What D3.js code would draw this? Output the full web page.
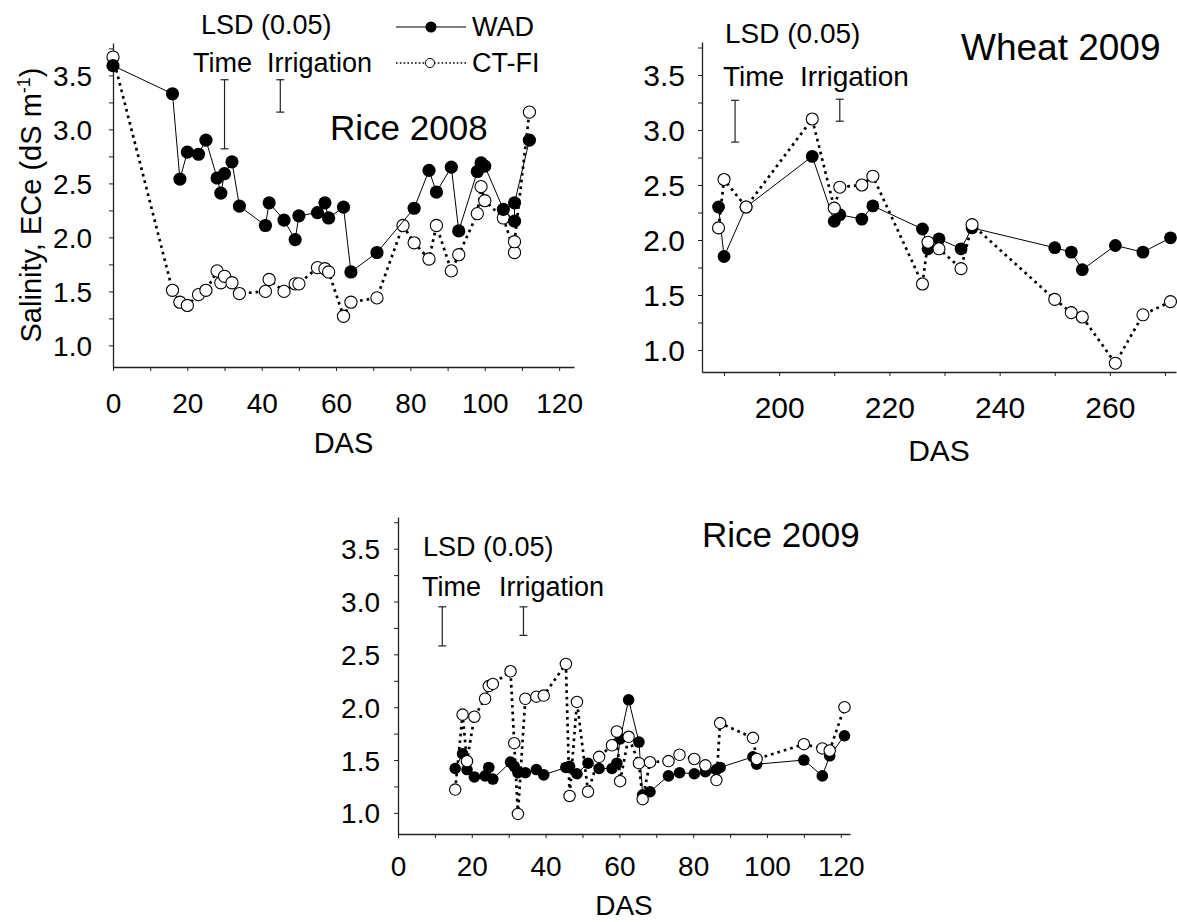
<!DOCTYPE html>
<html><head><meta charset="utf-8">
<script src="https://cdn.jsdelivr.net/npm/d3@7/dist/d3.min.js"></script>
<style>
body{margin:0;background:#fff;}
text{font-family:"Liberation Sans",Arial,sans-serif;fill:#000;}
</style>
</head><body>
<svg id="chart" width="1177" height="922"></svg>
<script>
// ---------------- DATA ----------------
const rice2008WadDas = [0,16,18,20,23,25,28,29,30,32,34,41,42,46,49,50,55,57,58,62,64,71,81,85,87,91,93,98,99,100,105,108,108,112];
const rice2008WadVal = [3.59,3.33,2.54,2.79,2.77,2.90,2.55,2.41,2.59,2.70,2.29,2.11,2.32,2.16,1.98,2.20,2.23,2.32,2.18,2.28,1.68,1.86,2.27,2.62,2.42,2.65,2.06,2.61,2.69,2.66,2.26,2.15,2.32,2.90];
const rice2008CtDas = [0,16,18,20,23,25,28,29,30,32,34,41,42,46,49,50,55,57,58,62,64,71,78,81,85,87,91,93,98,99,100,105,108,108,112];
const rice2008CtVal = [3.67,1.51,1.40,1.37,1.47,1.51,1.69,1.58,1.64,1.58,1.48,1.50,1.61,1.50,1.57,1.57,1.72,1.71,1.68,1.27,1.40,1.44,2.11,1.95,1.80,2.11,1.69,1.84,2.22,2.47,2.34,2.18,1.86,1.96,3.16];

const wheat2009Das = [189,190,194,206,210,211,215,217,226,227,229,233,235,250,253,255,261,266,271];
const wheat2009Wad = [2.30,1.85,2.30,2.76,2.17,2.23,2.19,2.31,2.10,1.92,2.01,1.92,2.11,1.93,1.89,1.73,1.95,1.89,2.02];
const wheat2009Ct  = [2.11,2.55,2.30,3.10,2.29,2.48,2.50,2.58,1.60,1.98,1.92,1.74,2.14,1.46,1.34,1.30,0.88,1.32,1.44];

const rice2009Das = [15.5,17.5,18.7,20.7,23.6,24.6,25.7,30.5,31.5,32.5,34.5,37.5,39.5,45.5,46.5,48.5,51.5,54.5,58,59.3,60.2,62.5,65.3,66.3,68.3,73.3,76.3,80.3,83.3,86.3,87.3,96.2,97.2,110,115,117,121];
const rice2009Wad = [1.42,1.56,1.41,1.34,1.35,1.43,1.32,1.48,1.44,1.38,1.38,1.41,1.36,1.43,1.44,1.37,1.47,1.42,1.42,1.47,1.70,2.07,1.67,1.17,1.20,1.35,1.38,1.37,1.39,1.41,1.43,1.53,1.46,1.50,1.35,1.54,1.73];
const rice2009Ct  = [1.22,1.93,1.49,1.91,2.08,2.20,2.22,2.34,1.66,0.99,2.08,2.10,2.11,2.41,1.16,2.05,1.20,1.53,1.64,1.77,1.30,1.72,1.47,1.13,1.48,1.49,1.55,1.51,1.45,1.31,1.85,1.71,1.51,1.65,1.61,1.59,2.00];

// LSD (0.05) bars: position on the time axis, lower and upper salinity
const lsdRice2008 = [{das:30, lo:2.82, hi:3.46}, {das:45, lo:3.16, hi:3.46}];
const lsdWheat2009 = [{das:192, lo:2.89, hi:3.27}, {das:211, lo:3.08, hi:3.28}];
const lsdRice2009 = [{das:12, lo:2.58, hi:2.95}, {das:34, lo:2.68, hi:2.95}];

// Ticks / labels
const yMajorTicks = [1.0,1.5,2.0,2.5,3.0,3.5];
const yMinorTicks = [1.0,1.25,1.5,1.75,2.0,2.25,2.5,2.75,3.0,3.25,3.5,3.75];
const riceXLabels = [0,20,40,60,80,100,120];
const riceXTicks = [0,10,20,30,40,50,60,70,80,90,100,110,120];
const wheatXLabels = [200,220,240,260];
const wheatXTicks = [190,200,210,220,230,240,250,260,270];
const seriesNames = ["WAD","CT-FI"];
const yTitle = "Salinity, ECe (dS m";

// ---------------- DRAW ----------------
const svg = d3.select("#chart");
const FONT = '"Liberation Sans", Arial, sans-serif';
const yDomain = [0.8, 3.8];

function zip(a,b){ return a.map((v,i)=>[v,b[i]]); }

function drawPanel(p){
  const x = d3.scaleLinear().domain(p.xDomain).range([p.left, p.right]);
  const y = d3.scaleLinear().domain(yDomain).range([p.bottom, p.top]);
  const g = svg.append("g");

  // x axis
  const gx = g.append("g").attr("transform", `translate(0,${p.bottom})`)
    .call(d3.axisBottom(x).tickValues(p.xTicks).tickSize(4).tickSizeOuter(0)
      .tickFormat(d => p.xLabels.includes(d) ? String(d) : ""));
  gx.attr("font-family", FONT).attr("font-size", p.tickFont);
  gx.select(".domain").attr("stroke", "#222").attr("stroke-width", 1.3);
  gx.selectAll(".tick line").attr("stroke", "#222").attr("stroke-width", 1);
  gx.selectAll(".tick text").attr("y", p.xLabelY).attr("dy", 0).attr("fill", "#000");

  // y axis
  const gy = g.append("g").attr("transform", `translate(${p.left},0)`)
    .call(d3.axisLeft(y).tickValues(yMinorTicks).tickSize(4).tickSizeOuter(0)
      .tickFormat(d => yMajorTicks.includes(d) ? d.toFixed(1) : ""));
  gy.attr("font-family", FONT).attr("font-size", p.tickFont);
  gy.select(".domain").attr("stroke", "#222").attr("stroke-width", 1.3);
  gy.selectAll(".tick line").attr("stroke", "#222").attr("stroke-width", 1);
  gy.selectAll(".tick text").attr("x", -(p.left - p.yLabelRight)).attr("dy", "0.36em").attr("fill", "#000");

  // DAS label
  g.append("text").attr("x", (p.left + p.right) / 2).attr("y", p.dasY)
    .attr("text-anchor", "middle").attr("font-size", p.dasFont).text("DAS");

  // title
  g.append("text").attr("x", p.titleX).attr("y", p.titleY)
    .attr("font-size", p.titleFont).text(p.title);

  // LSD texts
  g.append("text").attr("x", p.lsdX).attr("y", p.lsdY).attr("font-size", p.lsdFont).text("LSD (0.05)");
  g.append("text").attr("x", p.timeX).attr("y", p.timeY).attr("font-size", p.lsdFont).text("Time");
  g.append("text").attr("x", p.irrX).attr("y", p.timeY).attr("font-size", p.lsdFont).text("Irrigation");

  // LSD bars
  const bars = g.append("g").attr("stroke", "#222").attr("stroke-width", 1.2);
  p.lsd.forEach(b => {
    bars.append("line").attr("x1", x(b.das)).attr("x2", x(b.das)).attr("y1", y(b.lo)).attr("y2", y(b.hi));
    [b.lo, b.hi].forEach(v => bars.append("line").attr("x1", x(b.das) - 4).attr("x2", x(b.das) + 4)
      .attr("y1", y(v)).attr("y2", y(v)));
  });

  const line = d3.line().x(d => x(d[0])).y(d => y(d[1]));
  const wad = zip(p.wadDas, p.wadVal), ct = zip(p.ctDas, p.ctVal);

  function drawWad(){
    g.append("path").datum(wad).attr("d", line).attr("fill", "none").attr("stroke", "#000").attr("stroke-width", 1);
    g.append("g").selectAll("circle").data(wad).join("circle")
      .attr("cx", d => x(d[0])).attr("cy", d => y(d[1])).attr("r", p.rFill).attr("fill", "#000");
  }
  function drawCt(){
    g.append("path").datum(ct).attr("d", line).attr("fill", "none").attr("stroke", "#000")
      .attr("stroke-width", 2.7).attr("stroke-dasharray", "2.7,4");
    g.append("g").selectAll("circle").data(ct).join("circle")
      .attr("cx", d => x(d[0])).attr("cy", d => y(d[1])).attr("r", p.rOpen)
      .attr("fill", "#fff").attr("stroke", "#000").attr("stroke-width", 1.1);
  }
  if (p.wadOnTop){ drawCt(); drawWad(); } else { drawWad(); drawCt(); }
}

drawPanel({
  title:"Rice 2008", left:113, right:574, top:43, bottom:367, xDomain:[0,124],
  xTicks:riceXTicks, xLabels:riceXLabels, tickFont:28, xLabelY:46, yLabelRight:92,
  dasY:453, dasFont:29, titleX:330, titleY:140, titleFont:35,
  lsdX:201, lsdY:34, timeX:193, irrX:267, timeY:72, lsdFont:27, lsd:lsdRice2008,
  wadDas:rice2008WadDas, wadVal:rice2008WadVal, ctDas:rice2008CtDas, ctVal:rice2008CtVal,
  rFill:6.6, rOpen:6.1, wadOnTop:true
});
drawPanel({
  title:"Wheat 2009", left:702, right:1176, top:42, bottom:372, xDomain:[186,272],
  xTicks:wheatXTicks, xLabels:wheatXLabels, tickFont:30, xLabelY:46, yLabelRight:685,
  dasY:461, dasFont:30, titleX:961, titleY:60, titleFont:37,
  lsdX:725, lsdY:43, timeX:723, irrX:800, timeY:86, lsdFont:28, lsd:lsdWheat2009,
  wadDas:wheat2009Das, wadVal:wheat2009Wad, ctDas:wheat2009Das, ctVal:wheat2009Ct,
  rFill:6.4, rOpen:6.0, wadOnTop:false
});
drawPanel({
  title:"Rice 2009", left:398, right:850, top:517, bottom:834, xDomain:[0,122.5],
  xTicks:riceXTicks, xLabels:riceXLabels, tickFont:28, xLabelY:42, yLabelRight:380,
  dasY:915, dasFont:28, titleX:702, titleY:547, titleFont:35,
  lsdX:423, lsdY:556, timeX:422, irrX:499, timeY:596, lsdFont:27, lsd:lsdRice2009,
  wadDas:rice2009Das, wadVal:rice2009Wad, ctDas:rice2009Das, ctVal:rice2009Ct,
  rFill:5.8, rOpen:5.7, wadOnTop:false
});

// Y axis title (first panel)
const yt = svg.append("text").attr("transform", "translate(41,205) rotate(-90)")
  .attr("text-anchor", "middle").attr("font-size", 29);
yt.append("tspan").text(yTitle);
yt.append("tspan").attr("font-size", 18).attr("dy", -11).text("-1");
yt.append("tspan").attr("dy", 11).text(")");

// Legend (first panel)
const lg = svg.append("g");
lg.append("line").attr("x1", 396).attr("x2", 466).attr("y1", 27).attr("y2", 27).attr("stroke", "#000").attr("stroke-width", 1);
lg.append("circle").attr("cx", 431).attr("cy", 27).attr("r", 5.5).attr("fill", "#000");
lg.append("text").attr("x", 472).attr("y", 36).attr("font-size", 27).text(seriesNames[0]);
lg.append("line").attr("x1", 396).attr("x2", 467).attr("y1", 63).attr("y2", 63).attr("stroke", "#000")
  .attr("stroke-width", 1.6).attr("stroke-dasharray", "1.6,2.2");
lg.append("circle").attr("cx", 430).attr("cy", 63).attr("r", 4.6).attr("fill", "#fff").attr("stroke", "#000").attr("stroke-width", 1);
lg.append("text").attr("x", 472).attr("y", 72).attr("font-size", 27).text(seriesNames[1]);
</script>
</body></html>
